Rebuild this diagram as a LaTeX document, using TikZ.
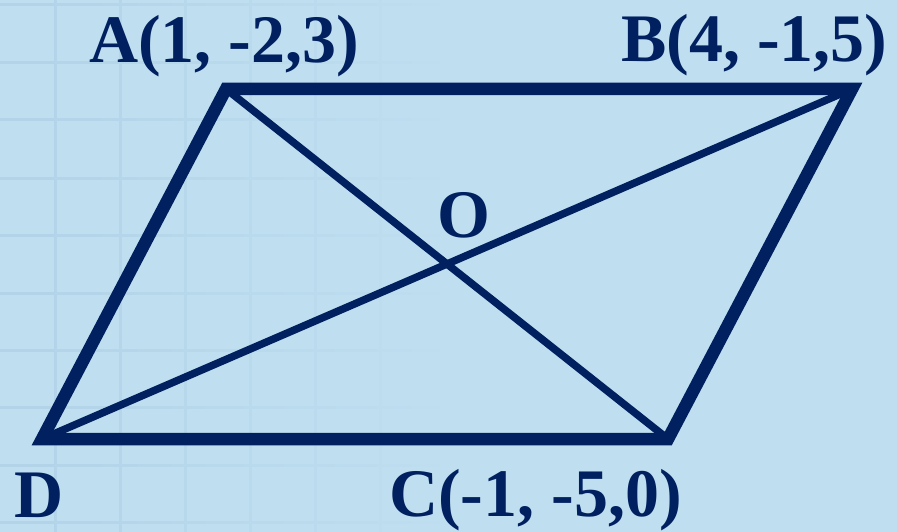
\documentclass[tikz,border=0pt]{standalone}
\usepackage{fontspec}
\setmainfont{Liberation Serif}
\usetikzlibrary{fadings}
\definecolor{bg}{RGB}{191,222,240}
\definecolor{gridc}{RGB}{178,211,232}
\definecolor{navy}{RGB}{0,32,96}
\tikzset{
  edge/.style={draw=navy, line width=12.5pt, line join=miter},
  diag/.style={draw=navy, line width=7.5pt},
  lbl/.style={text=navy, font=\fontsize{68}{68}\selectfont\bfseries, inner sep=0pt, anchor=base west},
  gridline/.style={draw=gridc, line width=3pt}
}
\begin{document}
\begin{tikzpicture}[x=1pt,y=-1pt]
\fill[bg] (0,0) rectangle (897,532);
\useasboundingbox (0,0) rectangle (897,532);
\foreach \gx in {55,120,185,250,315,380} {\draw[gridline] (\gx,0) -- (\gx,532);}
\foreach \gy in {5,63,120,178,235,293,350,407,465,522} {\draw[gridline] (0,\gy) -- (440,\gy);}
\fill[bg, path fading=west] (0,0) rectangle (445,532);
\coordinate (A) at (226,89);
\coordinate (B) at (852,89);
\coordinate (C) at (668,439);
\coordinate (D) at (42,439);
\draw[diag] (A) -- (C);
\draw[diag] (B) -- (D);
\draw[edge] (A) -- (B) -- (C) -- (D) -- cycle;
\node[lbl] (lA) at (89,63) {A(1, -2,3)};
\node[lbl] (lB) at (621,62) {B(4, -1,5)};
\node[lbl] (lC) at (389,516) {C(-1, -5,0)};
\node[lbl] (lD) at (14,517) {D};
\node[lbl] (lO) at (437,237) {O};
\end{tikzpicture}
\end{document}
